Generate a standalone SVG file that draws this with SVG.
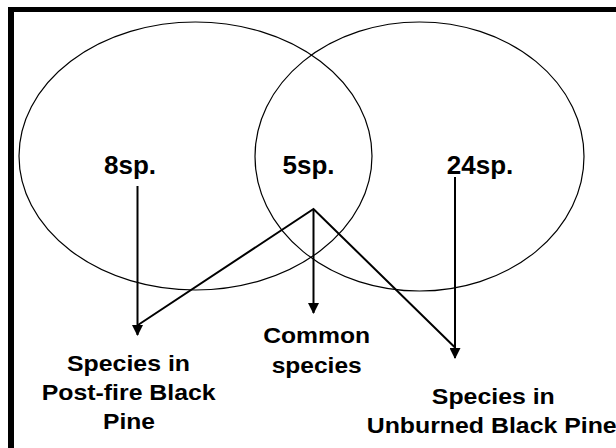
<svg xmlns="http://www.w3.org/2000/svg" width="616" height="448" viewBox="0 0 616 448">
  <style>
    .ell { fill: none; stroke: #000; stroke-width: 1.2; }
    .conn { fill: none; stroke: #000; stroke-width: 2; }
    .lbl { font-family: "Liberation Sans", Arial, sans-serif; font-weight: bold; fill: #000; text-anchor: middle; }
    .sp { font-size: 26px; }
    .cap { font-size: 22px; }
  </style>
  <defs>
    <marker id="arrow" markerUnits="userSpaceOnUse" markerWidth="11" markerHeight="11" refX="10" refY="5.5" orient="auto" viewBox="0 0 11 11">
      <path d="M0,0 L11,5.5 L0,11 z" fill="#000"/>
    </marker>
  </defs>
  <rect x="0" y="0" width="616" height="448" fill="#fff"/>
  <g id="frame">
    <rect x="8" y="7" width="608" height="5" fill="#000"/>
    <rect x="8" y="7" width="6" height="441" fill="#000"/>
  </g>
  <g id="set-postfire">
    <ellipse class="ell" cx="195.5" cy="156" rx="176.5" ry="134"/>
    <text class="lbl sp" x="130" y="174">8sp.</text>
  </g>
  <g id="set-unburned">
    <ellipse class="ell" cx="419.5" cy="156.5" rx="164.5" ry="134.5"/>
    <text class="lbl sp" x="480" y="174">24sp.</text>
  </g>
  <g id="set-common">
    <text class="lbl sp" x="308.5" y="174">5sp.</text>
  </g>
  <g id="label-postfire">
    <text class="lbl cap" x="128.5" y="371" textLength="123" lengthAdjust="spacingAndGlyphs">Species in</text>
    <text class="lbl cap" x="128.7" y="400" textLength="174" lengthAdjust="spacingAndGlyphs">Post-fire Black</text>
    <text class="lbl cap" x="129" y="428.5" textLength="52" lengthAdjust="spacingAndGlyphs">Pine</text>
  </g>
  <g id="label-common">
    <text class="lbl cap" x="316.7" y="343" textLength="107" lengthAdjust="spacingAndGlyphs">Common</text>
    <text class="lbl cap" x="316.7" y="372.5" textLength="90" lengthAdjust="spacingAndGlyphs">species</text>
  </g>
  <g id="label-unburned">
    <text class="lbl cap" x="493.3" y="403.5" textLength="123" lengthAdjust="spacingAndGlyphs">Species in</text>
    <text class="lbl cap" x="366.7" y="432.7" style="text-anchor:start" textLength="250" lengthAdjust="spacingAndGlyphs">Unburned Black Pine</text>
  </g>
  <g id="connectors">
    <line class="conn" x1="137.5" y1="186" x2="137.5" y2="335" marker-end="url(#arrow)"/>
    <polyline class="conn" points="138,325 313.5,209 454.5,347"/>
    <line class="conn" x1="313.5" y1="209" x2="313.5" y2="313" marker-end="url(#arrow)"/>
    <line class="conn" x1="455" y1="177" x2="455" y2="358" marker-end="url(#arrow)"/>
  </g>
</svg>
